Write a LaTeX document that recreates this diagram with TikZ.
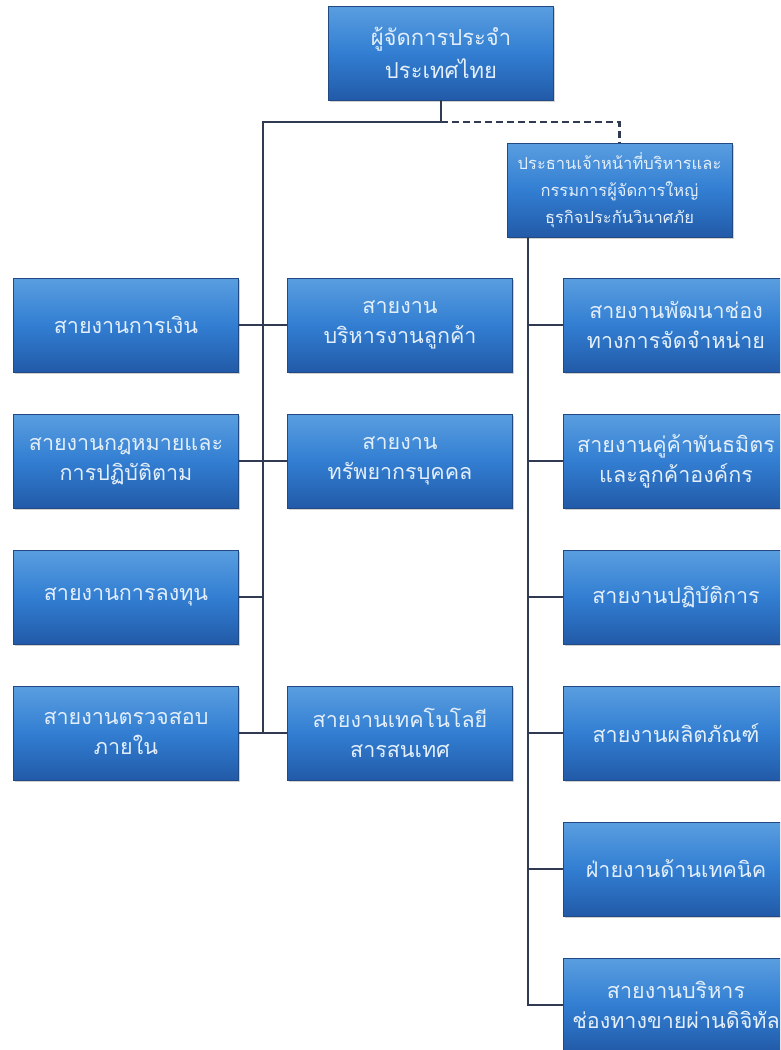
\documentclass[tikz,border=0pt]{standalone}
\usepackage{fontspec}
\newfontfamily\thaifont[Script=Thai]{Loma}
\usetikzlibrary{shadows}
\definecolor{boxtop}{RGB}{90,158,224}
\definecolor{boxmid}{RGB}{50,126,210}
\definecolor{boxbot}{RGB}{34,90,168}
\definecolor{boxedge}{RGB}{34,74,130}
\definecolor{txt}{RGB}{226,238,250}
\definecolor{linec}{RGB}{48,58,80}
\tikzset{
  orgbox/.style={draw=boxedge, line width=0.8pt, top color=boxtop, bottom color=boxbot, middle color=boxmid,
    minimum width=225pt, minimum height=94pt, inner sep=2pt, align=center,
    text=txt, font=\thaifont\fontsize{21.5}{30}\selectfont,
    drop shadow={shadow xshift=1.5pt, shadow yshift=-2pt, opacity=0.35}},
  smallbox/.style={orgbox, font=\thaifont\fontsize{16.5}{27}\selectfont},
  conn/.style={draw=linec, line width=2.6pt},
  dconn/.style={conn, dashed, dash pattern=on 7pt off 4pt}
}
\begin{document}
\begin{tikzpicture}[x=1pt,y=-1pt]
\useasboundingbox (0,0) rectangle (780,1050);
\clip (0,0) rectangle (780,1050);
\fill[white] (0,0) rectangle (780,1050);
\coordinate (hub) at (263,122);
\coordinate (rbus) at (528,237);
\node[orgbox, font=\thaifont\fontsize{22}{33}\selectfont] (top) at (441,53) {ผู้จัดการประจำ\\ประเทศไทย};
\node[smallbox] (ceo) at (619.5,190) {ประธานเจ้าหน้าที่บริหารและ\\กรรมการผู้จัดการใหญ่\\ธุรกิจประกันวินาศภัย};
\node[orgbox] (l1) at (126,325) {สายงานการเงิน};
\node[orgbox] (l2) at (126,461) {สายงานกฎหมายและ\\การปฏิบัติตาม};
\node[orgbox] (l3) at (126,597) {สายงานการลงทุน};
\node[orgbox] (l4) at (126,733) {สายงานตรวจสอบ\\ภายใน};
\node[orgbox] (m1) at (400,325) {สายงาน\\บริหารงานลูกค้า};
\node[orgbox] (m2) at (400,461) {สายงาน\\ทรัพยากรบุคคล};
\node[orgbox] (m4) at (400,733) {สายงานเทคโนโลยี\\สารสนเทศ};
\node[orgbox] (r1) at (676,325) {สายงานพัฒนาช่อง\\ทางการจัดจำหน่าย};
\node[orgbox] (r2) at (676,461) {สายงานคู่ค้าพันธมิตร\\และลูกค้าองค์กร};
\node[orgbox] (r3) at (676,597) {สายงานปฏิบัติการ};
\node[orgbox] (r4) at (676,733) {สายงานผลิตภัณฑ์};
\node[orgbox] (r5) at (676,869) {ฝ่ายงานด้านเทคนิค};
\node[orgbox] (r6) at (676,1005) {สายงานบริหาร\\ช่องทางขายผ่านดิจิทัล};
\draw[conn] (top.south) -- (top.south |- hub) -- (hub) -- (hub |- l4.east);
\draw[dconn] (top.south |- hub) -| (ceo.north);
\draw[conn] (l1.east) -- (m1.west);
\draw[conn] (l2.east) -- (m2.west);
\draw[conn] (l3.east) -- (hub |- l3.east);
\draw[conn] (l4.east) -- (m4.west);
\draw[conn] (rbus) -- (rbus |- r6.west) -- (r6.west);
\draw[conn] (rbus |- r1.west) -- (r1.west);
\draw[conn] (rbus |- r2.west) -- (r2.west);
\draw[conn] (rbus |- r3.west) -- (r3.west);
\draw[conn] (rbus |- r4.west) -- (r4.west);
\draw[conn] (rbus |- r5.west) -- (r5.west);
\end{tikzpicture}
\end{document}
